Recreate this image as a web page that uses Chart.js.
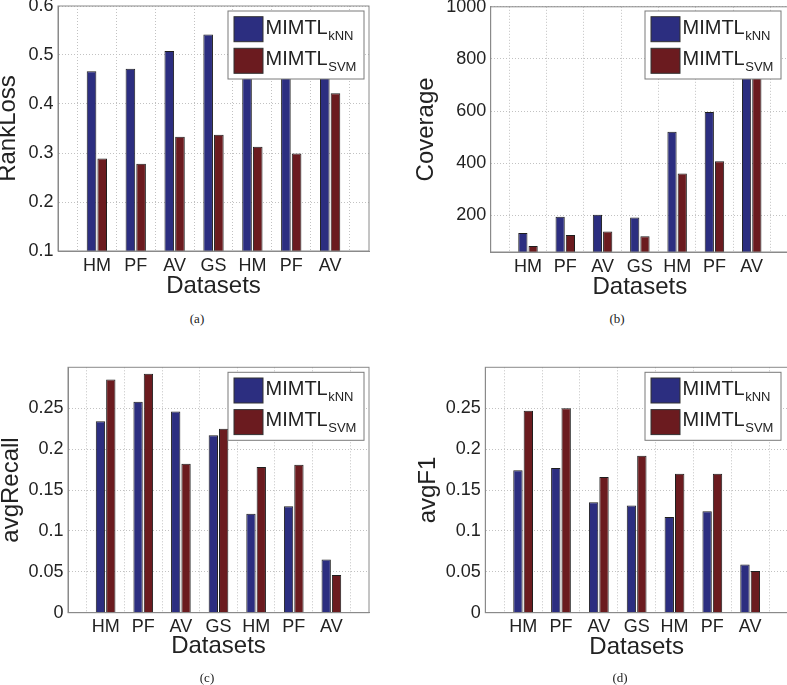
<!DOCTYPE html>
<html>
<head>
<meta charset="utf-8">
<script src="https://cdn.jsdelivr.net/npm/chart.js@4"></script>
<style>
  html, body { margin: 0; padding: 0; background: #fff; overflow: hidden; }
  body { width: 787px; height: 685px; position: relative; }
  canvas { position: absolute; }
  .cap { position: absolute; font: 13px 'Liberation Serif', 'Times New Roman', serif; color: #222; transform: translate(-50%, -50%); }
</style>
</head>
<body>
<canvas id="rank" width="404" height="300" style="left:-4px;top:0"></canvas>
<canvas id="coverage" width="400" height="300" style="left:400px;top:0"></canvas>
<canvas id="recall" width="404" height="345" style="left:-4px;top:340px"></canvas>
<canvas id="f1" width="400" height="345" style="left:400px;top:340px"></canvas>
<div class="cap" style="left:197px;top:319px">(a)</div>
<div class="cap" style="left:617px;top:319px">(b)</div>
<div class="cap" style="left:207px;top:678px">(c)</div>
<div class="cap" style="left:620px;top:678px">(d)</div>
<script>
const datasets = ['HM', 'PF', 'AV', 'GS', 'HM', 'PF', 'AV'];
const seriesNames = ['MIMTL_kNN', 'MIMTL_SVM'];
const seriesColors = ['#2c2e80', '#6b1b1f'];

const rankLossKnn = [0.467, 0.472, 0.508, 0.542, 0.52, 0.53, 0.56];
const rankLossSvm = [0.289, 0.278, 0.333, 0.337, 0.313, 0.299, 0.422];
const coverageKnn = [133, 195, 203, 192, 521, 597, 870];
const coverageSvm = [83, 125, 139, 120, 361, 408, 850];
const recallKnn = [0.234, 0.258, 0.246, 0.217, 0.121, 0.130, 0.065];
const recallSvm = [0.285, 0.292, 0.182, 0.225, 0.178, 0.181, 0.046];
const f1Knn = [0.174, 0.177, 0.135, 0.131, 0.117, 0.124, 0.059];
const f1Svm = [0.247, 0.250, 0.166, 0.192, 0.170, 0.170, 0.051];

const rankTicks = [0.1, 0.2, 0.3, 0.4, 0.5, 0.6];
const coverageTicks = [200, 400, 600, 800, 1000];
const avgTicks = [0, 0.05, 0.1, 0.15, 0.2, 0.25];

const FONT = '"Liberation Sans", Arial, Helvetica, sans-serif';
const TEXT = '#222';

// boxed axes + matlab style legend with subscripts
const boxLegend = {
  id: 'boxLegend',
  afterDatasetsDraw(chart, args, opts) {
    const { ctx, chartArea: a } = chart;
    ctx.save();
    ctx.strokeStyle = '#8a8a8a';
    ctx.lineWidth = 1;
    ctx.strokeRect(a.left, a.top, a.right - a.left, a.bottom - a.top);

    const w = 136, h = 68;
    const x = a.right - opts.right - w, y = a.top + opts.top;
    ctx.fillStyle = '#fff';
    ctx.fillRect(x, y, w, h);
    ctx.strokeStyle = '#7a7a7a';
    ctx.strokeRect(x, y, w, h);
    chart.data.datasets.forEach((ds, i) => {
      const sy = y + 5.7 + i * 31.6;
      ctx.fillStyle = ds.backgroundColor;
      ctx.fillRect(x + 6, sy, 29, 25);
      ctx.strokeStyle = '#333';
      ctx.strokeRect(x + 6, sy, 29, 25);
      const [main, sub] = ds.label.split('_');
      ctx.fillStyle = TEXT;
      ctx.textAlign = 'left';
      ctx.textBaseline = 'alphabetic';
      ctx.font = '20px ' + FONT;
      ctx.fillText(main, x + 37.5, y + 22.5 + i * 31.6);
      const mw = ctx.measureText(main).width;
      ctx.font = '13px ' + FONT;
      ctx.fillText(sub, x + 38 + mw, y + 28.5 + i * 31.6);
    });
    ctx.restore();
  }
};

function makeChart(id, o) {
  const canvas = document.getElementById(id);
  const W = canvas.width, H = canvas.height;
  const pad = v => [null, ...v, null];
  return new Chart(canvas, {
    type: 'bar',
    data: {
      labels: ['', ...datasets, ''],
      datasets: [
        { label: seriesNames[0], data: pad(o.knn), backgroundColor: seriesColors[0] },
        { label: seriesNames[1], data: pad(o.svm), backgroundColor: seriesColors[1] }
      ]
    },
    options: {
      responsive: false,
      animation: false,
      layout: { padding: { left: 0, top: o.top, right: W - o.right, bottom: 0 } },
      datasets: {
        bar: {
          borderColor: '#1e1e1e',
          borderWidth: 1,
          categoryPercentage: 0.55,
          barPercentage: 0.9,
          clip: 0
        }
      },
      plugins: {
        legend: { display: false },
        tooltip: { enabled: false },
        boxLegend: { right: o.legRight, top: o.legTop }
      },
      scales: {
        x: {
          offset: false,
          grid: { color: '#c2c2c2', drawTicks: false },
          border: { color: '#8a8a8a', dash: [1, 2] },
          ticks: { autoSkip: false, maxRotation: 0, padding: 4, color: TEXT, font: { family: FONT, size: 18 } },
          title: {
            display: true, text: 'Datasets', color: TEXT,
            font: { family: FONT, size: 24, lineHeight: 1 },
            padding: { top: 0, bottom: o.xTitlePad }
          },
          afterFit: s => { s.height = H - o.bottom; s.paddingLeft = 0; s.paddingRight = 0; }
        },
        y: {
          min: o.min,
          max: o.max,
          grid: { color: '#c2c2c2', drawTicks: false },
          border: { color: '#8a8a8a', dash: [1, 2] },
          afterBuildTicks: s => { s.ticks = o.ticks.map(v => ({ value: v })); },
          ticks: { padding: 4.5, color: TEXT, font: { family: FONT, size: 18 }, callback: v => String(v) },
          title: {
            display: true, text: o.yTitle, color: TEXT,
            font: { family: FONT, size: 24, lineHeight: 1 },
            padding: { top: o.yTitlePad, bottom: 0 }
          },
          afterFit: s => { s.width = o.left; s.paddingTop = 0; s.paddingBottom = 0; }
        }
      }
    },
    plugins: [boxLegend]
  });
}

makeChart('rank', {
  knn: rankLossKnn, svm: rankLossSvm, yTitle: 'RankLoss', min: 0.1, max: 0.6, ticks: rankTicks,
  left: 62, right: 373, top: 6, bottom: 251, yTitlePad: 0.4, xTitlePad: 1.3, legRight: 5, legTop: 5
});
makeChart('coverage', {
  knn: coverageKnn, svm: coverageSvm, yTitle: 'Coverage', min: 60, max: 1000, ticks: coverageTicks,
  left: 90.7, right: 389, top: 6.8, bottom: 252, yTitlePad: 14.7, xTitlePad: 0.3, legRight: 8, legTop: 4.2
});
makeChart('recall', {
  knn: recallKnn, svm: recallSvm, yTitle: 'avgRecall', min: 0, max: 0.3, ticks: avgTicks,
  left: 72, right: 373, top: 27.3, bottom: 272.7, yTitlePad: 3, xTitlePad: 26.3, legRight: 5, legTop: 5
});
makeChart('f1', {
  knn: f1Knn, svm: f1Svm, yTitle: 'avgF1', min: 0, max: 0.3, ticks: avgTicks,
  left: 85.3, right: 388, top: 27.3, bottom: 272.7, yTitlePad: 16.7, xTitlePad: 25.3, legRight: 7, legTop: 5
});
</script>
</body>
</html>
